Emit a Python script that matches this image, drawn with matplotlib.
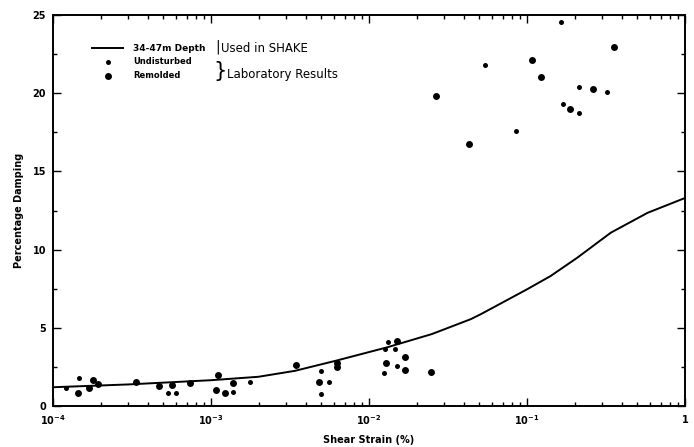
import numpy as np
import matplotlib.pyplot as plt
from matplotlib.ticker import FixedLocator, LogLocator, NullFormatter

# SHAKE curve, 34-47m depth
curve_strain = [1e-4, 3e-4, 1e-3, 2e-3, 3.4e-3, 6.2e-3, 1.3e-2, 2.5e-2, 4.4e-2,
                5.1e-2, 0.1, 0.141, 0.208, 0.339, 0.579, 1.0]
curve_damping = [1.2, 1.38, 1.65, 1.87, 2.25, 2.9, 3.75, 4.6, 5.55,
                 5.87, 7.46, 8.31, 9.48, 11.08, 12.35, 13.3]

# undisturbed samples
und_strain = [1.21e-4, 1.45e-4, 5.36e-4, 5.96e-4, 1.37e-3, 1.77e-3, 5.0e-3,
              5.56e-3, 5.0e-3, 1.26e-2, 1.31e-2, 1.46e-2, 1.25e-2, 1.51e-2,
              0.164, 0.0545, 0.213, 0.322, 0.170, 0.214, 0.0848]
und_damping = [1.13, 1.77, 0.83, 0.81, 0.91, 1.55, 2.24,
               1.53, 0.77, 3.64, 4.09, 3.64, 2.09, 2.58,
               24.53, 21.82, 20.42, 20.06, 19.29, 18.71, 17.56]

# remolded samples
rem_strain = [1.43e-4, 1.69e-4, 1.79e-4, 1.94e-4, 3.34e-4, 4.70e-4, 5.68e-4,
              7.38e-4, 1.10e-3, 1.08e-3, 1.22e-3, 1.37e-3, 3.44e-3, 4.83e-3,
              6.27e-3, 6.3e-3, 1.50e-2, 1.28e-2, 1.68e-2, 1.68e-2, 2.47e-2,
              2.67e-2, 4.32e-2, 0.107, 0.123, 0.357, 0.262, 0.187]
rem_damping = [0.85, 1.13, 1.68, 1.42, 1.52, 1.30, 1.32,
               1.45, 2.01, 1.05, 0.83, 1.47, 2.62, 1.55,
               2.73, 2.47, 4.16, 2.73, 3.15, 2.30, 2.15,
               19.82, 16.75, 22.14, 21.05, 22.93, 20.29, 18.97]

x_ticks = [1e-4, 1e-3, 1e-2, 1e-1, 1]
x_ticklabels = [r'$\mathbf{10^{-4}}$', r'$\mathbf{10^{-3}}$', r'$\mathbf{10^{-2}}$',
                r'$\mathbf{10^{-1}}$', r'$\mathbf{1}$']
y_ticks = [0, 5, 10, 15, 20, 25]

fig = plt.figure(figsize=(6.94, 4.47), dpi=100)
ax = fig.add_axes([0.0764, 0.0917, 0.9106, 0.8747])

ax.plot(curve_strain, curve_damping, color='black', lw=1.4)
ax.plot(und_strain, und_damping, 'o', color='black', ms=3.6, mew=0)
ax.plot(rem_strain, rem_damping, 'o', color='black', ms=5.0, mew=0)

ax.set_xscale('log')
ax.set_xlim(1e-4, 1)
ax.set_ylim(0, 25)

ax.set_xticks(x_ticks)
ax.set_xticklabels(x_ticklabels, fontsize=7)
ax.xaxis.set_minor_locator(LogLocator(base=10, subs=np.arange(2, 10)))
ax.xaxis.set_minor_formatter(NullFormatter())
ax.set_yticks(y_ticks)
ax.set_yticklabels([str(v) for v in y_ticks], fontsize=7, fontweight='bold')
ax.yaxis.set_minor_locator(FixedLocator(np.arange(2.5, 25, 5)))

ax.tick_params(which='both', direction='in', top=True, right=True, width=1.0)
ax.tick_params(which='major', length=6, pad=5)
ax.tick_params(which='minor', length=3)
for s in ax.spines.values():
    s.set_linewidth(1.4)

ax.set_xlabel('Shear Strain (%)', fontsize=7, fontweight='bold', labelpad=6)
ax.set_ylabel('Percentage Damping', fontsize=7, fontweight='bold', labelpad=6)

# hand-made legend
tr = ax.transAxes
ax.plot([0.062, 0.111], [0.9156, 0.9156], color='black', lw=1.4, transform=tr)
ax.plot([0.087], [0.880], 'o', color='black', ms=3.6, mew=0, transform=tr)
ax.plot([0.087], [0.844], 'o', color='black', ms=5.0, mew=0, transform=tr)
ax.text(0.127, 0.9156, '34-47m Depth', fontsize=6.5, fontweight='bold',
        va='center', transform=tr)
ax.text(0.127, 0.882, 'Undisturbed', fontsize=6, fontweight='bold',
        va='center', transform=tr)
ax.text(0.127, 0.846, 'Remolded', fontsize=6, fontweight='bold',
        va='center', transform=tr)
ax.text(0.256, 0.918, '|', fontsize=10, va='center', transform=tr)
ax.text(0.266, 0.9156, 'Used in SHAKE', fontsize=8.5, va='center', transform=tr)
ax.text(0.254, 0.857, '}', fontsize=15, va='center', transform=tr)
ax.text(0.276, 0.848, 'Laboratory Results', fontsize=8.5, va='center', transform=tr)

fig.savefig('out.png', dpi=100)
